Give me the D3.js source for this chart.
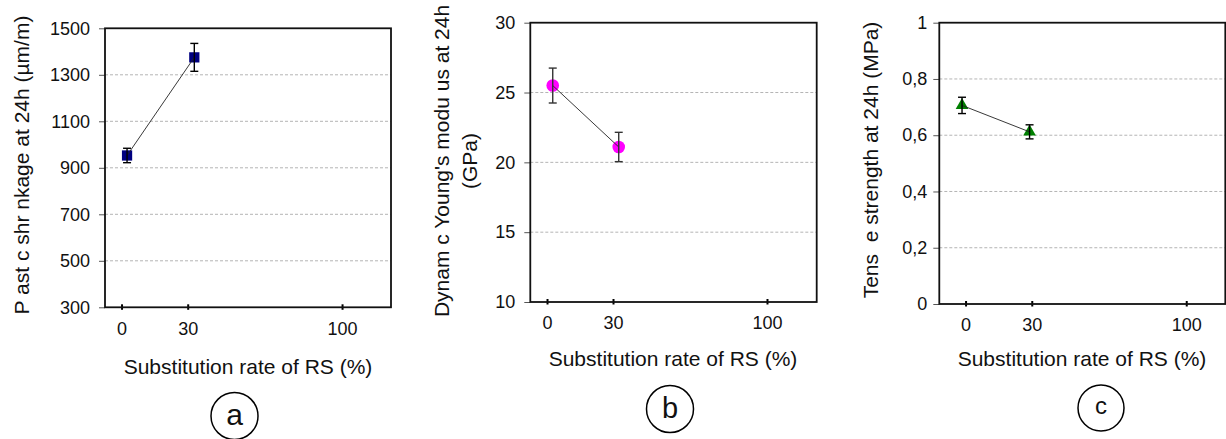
<!DOCTYPE html>
<html>
<head>
<meta charset="utf-8">
<script src="https://cdn.jsdelivr.net/npm/d3@7"></script>
<style>
  body { margin: 0; background: #fff; }
  svg { font-family: "Liberation Sans", Arial, Helvetica, sans-serif; }
  text { white-space: pre; }
</style>
</head>
<body>
<div id="app"></div>
<script>
// data
const xTicks = [0, 30, 100];
const xTitle = "Substitution rate of RS (%)";

const shrinkX = [2.5, 33];
const shrinkVal = [953, 1375];
const shrinkErr = [31, 60];
const shrinkTicks = [300, 500, 700, 900, 1100, 1300, 1500];

const modulusX = [2.6, 32.6];
const modulusVal = [25.5, 21.1];
const modulusErr = [1.25, 1.05];
const modulusTicks = [10, 15, 20, 25, 30];

const tensileX = [-1.6, 29];
const tensileVal = [0.706, 0.612];
const tensileErr = [0.029, 0.025];
const tensileTicks = [0, 0.2, 0.4, 0.6, 0.8, 1];

// l/r/t/b = frame box, xd = x domain at frame edges
const panels = [
  { id: "a", l: 105, r: 391, t: 28.3, b: 307.3, xd: [-7.5, 122.2],
    xs: shrinkX, ys: shrinkVal, es: shrinkErr, ticks: shrinkTicks,
    label: ["P ast c shr nkage at 24h (µm/m)"], labX: [28.5], labY: 165, tpad: 9,
    marker: "square", color: "#000080", errCol: "#000", tickBase: 335,
    titleX: 248, titleBase: 373.5,
    circ: [234.5, 416, 23.5], letter: "a", letSize: 30, letBase: 425 },
  { id: "b", l: 530.3, r: 816.7, t: 22.7, b: 302, xd: [-7.6, 122.6],
    xs: modulusX, ys: modulusVal, es: modulusErr, ticks: modulusTicks,
    label: ["Dynam c Young's modu us at 24h", "(GPa)"], labX: [448.5, 477], labY: 161, tpad: 9,
    marker: "circle", color: "#ff00ff", errCol: "#333", tickBase: 329.3,
    titleX: 673, titleBase: 365.5,
    circ: [670, 409, 23.5], letter: "b", letSize: 29, letBase: 417.5 },
  { id: "c", l: 939.3, r: 1225.3, t: 22.7, b: 304, xd: [-11.9, 117.7],
    xs: tensileX, ys: tensileVal, es: tensileErr, ticks: tensileTicks,
    label: ["Tens  e strength at 24h (MPa)"], labX: [877.5], labY: 160, tpad: 6,
    marker: "triangle", color: "#008000", errCol: "#000", tickBase: 331.3,
    titleX: 1082, titleBase: 365.5,
    circ: [1101, 408, 23], letter: "c", letSize: 24, letBase: 413.5 }
];

const svg = d3.select("#app").append("svg")
    .attr("width", 1226)
    .attr("height", 439);

panels.forEach(p => {
  const x = d3.scaleLinear().domain(p.xd).range([p.l, p.r]);
  const ext = d3.extent(p.ticks);
  const y = d3.scaleLinear().domain(ext).range([p.b, p.t]);
  const fmt = d => String(d).replace(".", ",");
  const g = svg.append("g").attr("id", "panel-" + p.id);

  // grid lines, dashed grey
  g.append("g").selectAll("line")
      .data(p.ticks.filter(d => d !== ext[0] && d !== ext[1])).enter()
      .append("line")
      .attr("x1", p.l).attr("x2", p.r)
      .attr("y1", d => y(d)).attr("y2", d => y(d))
      .attr("stroke", "#b4b4b4")
      .attr("stroke-dasharray", "3,2");

  // y axis
  const ya = g.append("g")
      .attr("transform", "translate(" + p.l + ",0)")
      .call(d3.axisLeft(y).tickValues(p.ticks).tickFormat(fmt).tickSize(6).tickPadding(p.tpad));
  ya.select(".domain").remove();
  ya.selectAll("line").attr("stroke", "#555");
  ya.selectAll("text").attr("font-size", "18px").attr("fill", "#111")
      .attr("font-family", "Liberation Sans, Arial, sans-serif");

  // x axis, ticks cross the frame
  const xa = g.append("g")
      .attr("transform", "translate(0," + p.b + ")")
      .call(d3.axisBottom(x).tickValues(xTicks).tickSize(3));
  xa.select(".domain").remove();
  xa.selectAll("line").attr("y1", -3).attr("y2", 2.5).attr("stroke", "#000").attr("stroke-width", 2);
  xa.selectAll("text").attr("font-size", "18px").attr("fill", "#111")
      .attr("font-family", "Liberation Sans, Arial, sans-serif")
      .attr("dy", null).attr("y", p.tickBase - p.b);

  // frame
  g.append("rect")
      .attr("x", p.l).attr("y", p.t)
      .attr("width", p.r - p.l).attr("height", p.b - p.t)
      .attr("fill", "none").attr("stroke", "#111").attr("stroke-width", 1.8);

  const pts = p.xs.map((d, i) => ({ x: d, v: p.ys[i], e: p.es[i] }));

  // markers
  const sym = { square: d3.symbolSquare, circle: d3.symbolCircle, triangle: d3.symbolTriangle };
  const size = { square: 105, circle: 125, triangle: 70 };
  g.append("g").selectAll("path")
      .data(pts).enter()
      .append("path")
      .attr("d", d3.symbol().type(sym[p.marker]).size(size[p.marker]))
      .attr("transform", d => "translate(" + x(d.x) + "," + y(d.v) + ")")
      .attr("fill", p.color);

  // connecting line
  g.append("path")
      .datum(pts)
      .attr("d", d3.line().x(d => x(d.x)).y(d => y(d.v)))
      .attr("fill", "none")
      .attr("stroke", "#222")
      .attr("stroke-width", 0.9);

  // error bars
  const eb = g.append("g").selectAll("g").data(pts).enter().append("g")
      .attr("stroke", p.errCol).attr("stroke-width", 1.4);
  eb.append("line")
      .attr("x1", d => x(d.x)).attr("x2", d => x(d.x))
      .attr("y1", d => y(d.v + d.e)).attr("y2", d => y(d.v - d.e));
  [1, -1].forEach(s => {
    eb.append("line")
        .attr("x1", d => x(d.x) - 4).attr("x2", d => x(d.x) + 4)
        .attr("y1", d => y(d.v + s * d.e)).attr("y2", d => y(d.v + s * d.e));
  });

  // y title (rotated)
  p.label.forEach((t, i) => {
    g.append("text")
        .attr("transform", "translate(" + p.labX[i] + "," + p.labY + ") rotate(-90)")
        .attr("text-anchor", "middle")
        .attr("font-size", "21px")
        .attr("fill", "#111")
        .text(t);
  });

  // x title
  g.append("text")
      .attr("x", p.titleX)
      .attr("y", p.titleBase)
      .attr("text-anchor", "middle")
      .attr("font-size", "21px")
      .attr("fill", "#111")
      .text(xTitle);

  // circled letter
  g.append("circle")
      .attr("cx", p.circ[0]).attr("cy", p.circ[1]).attr("r", p.circ[2])
      .attr("fill", "none").attr("stroke", "#000").attr("stroke-width", 1.5);
  g.append("text")
      .attr("x", p.circ[0]).attr("y", p.letBase)
      .attr("text-anchor", "middle")
      .attr("font-size", p.letSize + "px")
      .attr("fill", "#111")
      .text(p.letter);
});
</script>
</body>
</html>
